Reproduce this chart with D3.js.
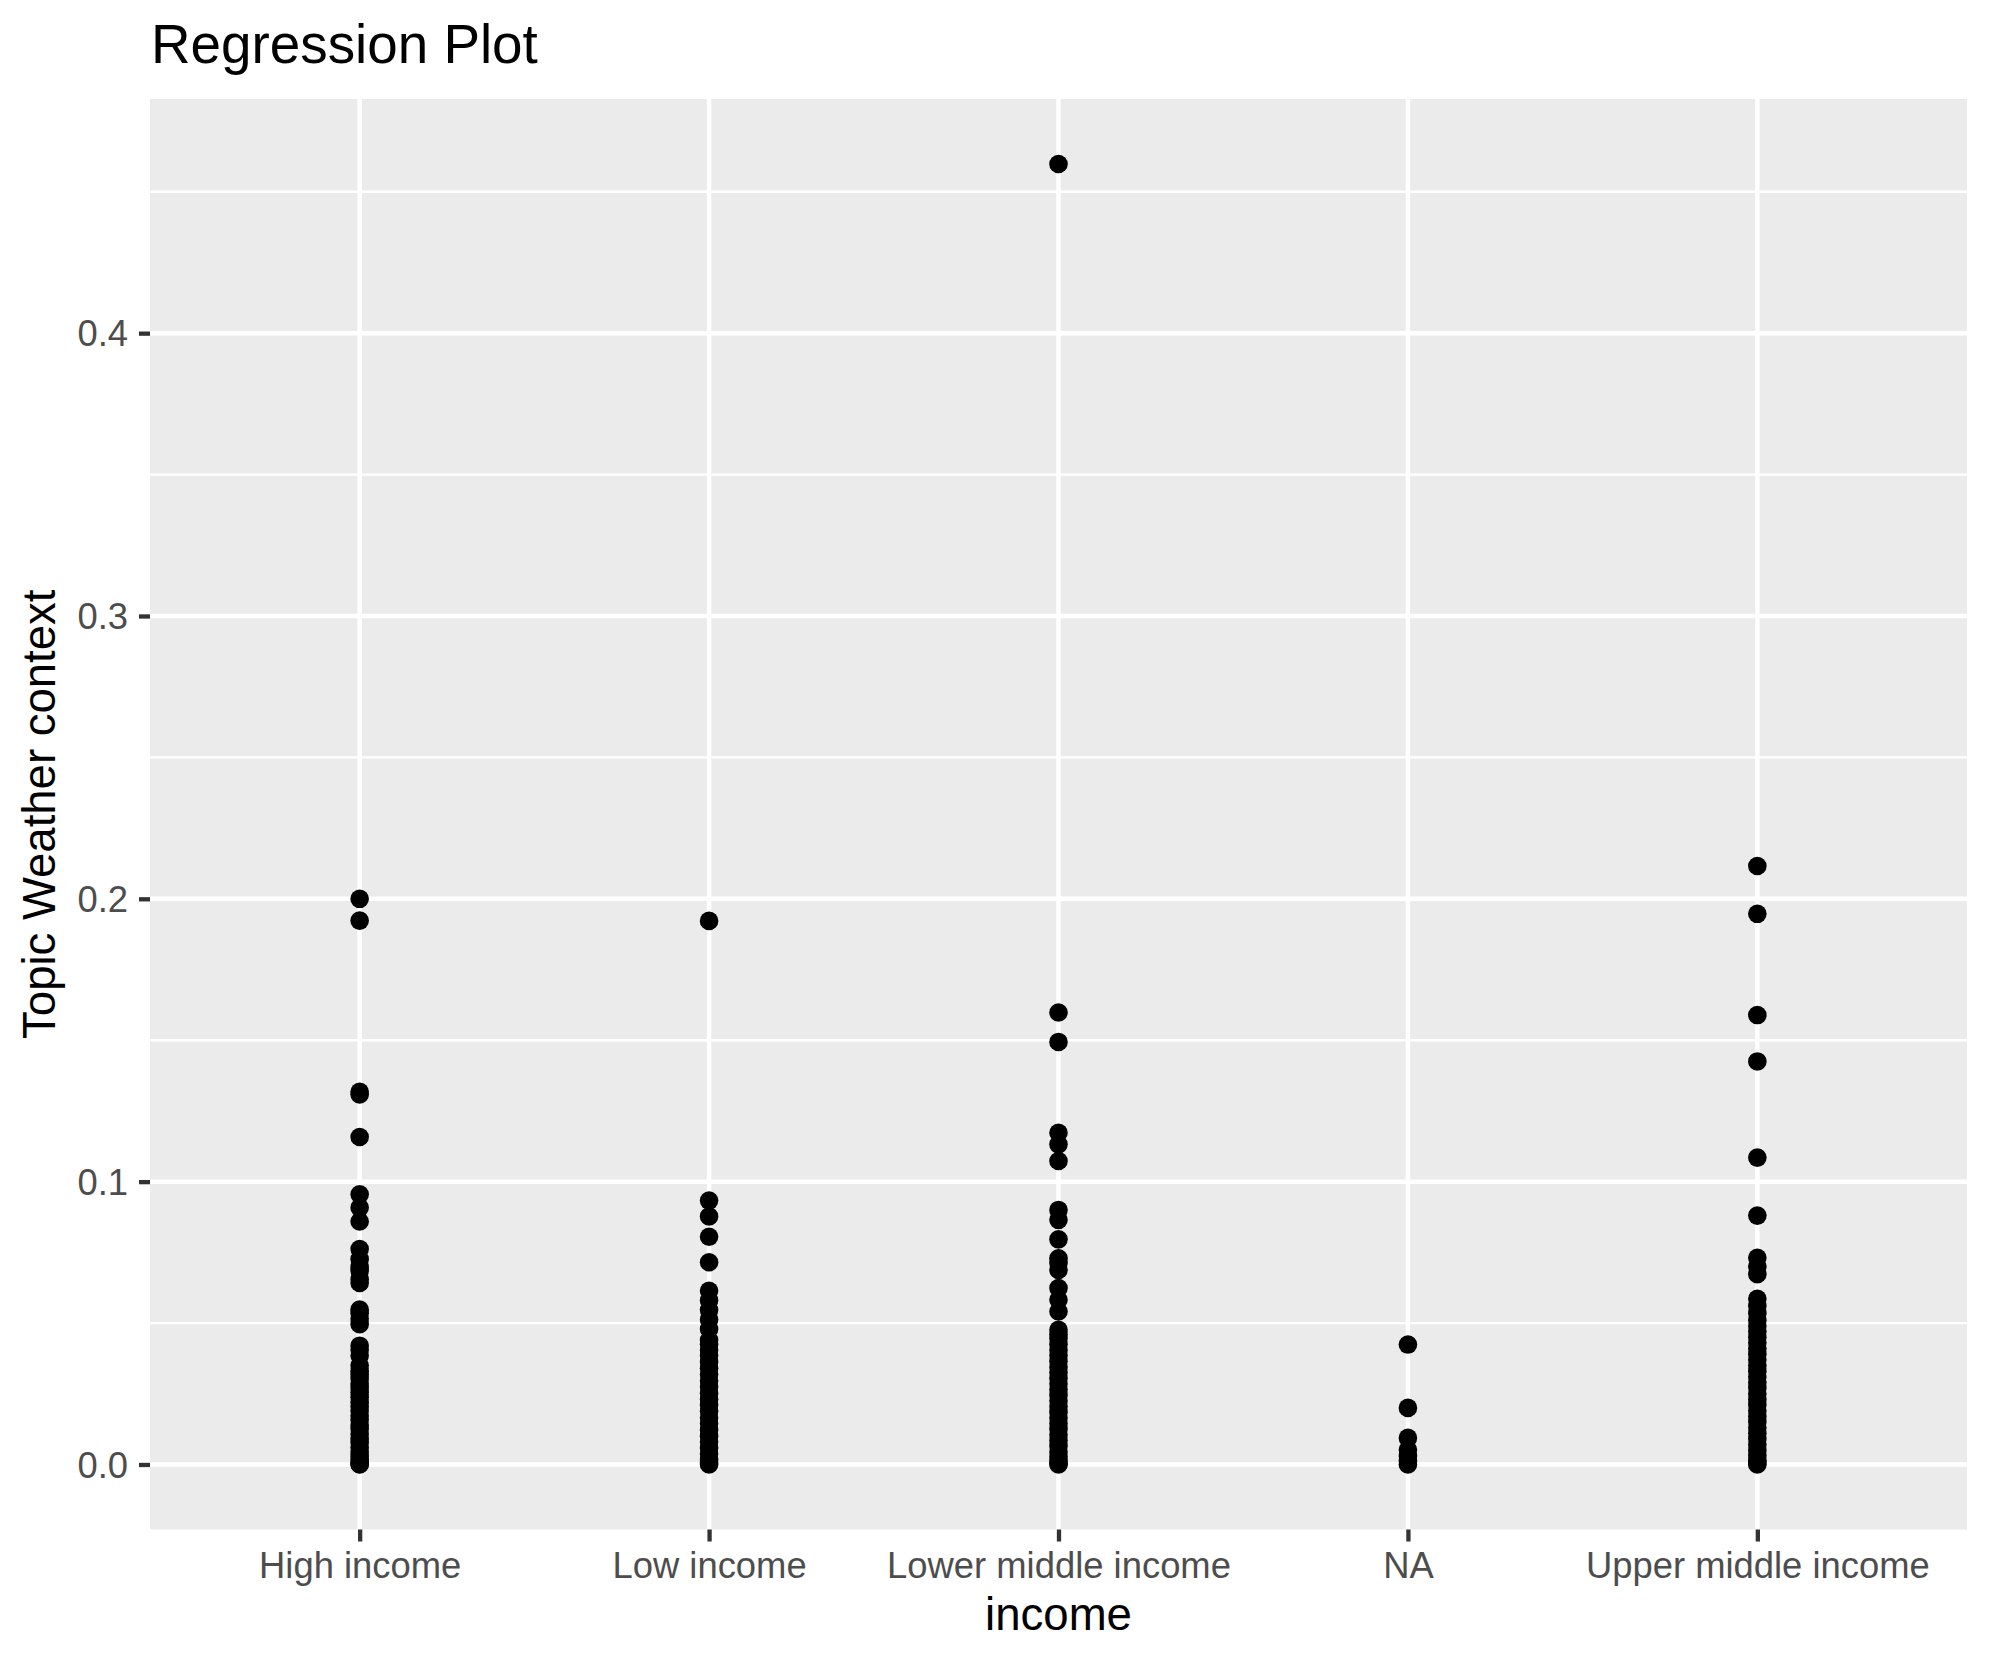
<!DOCTYPE html>
<html>
<head>
    <script src="https://d3js.org/d3.v7.min.js"></script>
    <style>
        body { margin: 0; background: #fff; }
        text { font-family: "Liberation Sans", Arial, sans-serif; }
    </style>
</head>
<body>
<div id="chart"></div>
<script>
// categories on the x axis
const categories = ["High income", "Low income", "Lower middle income", "NA", "Upper middle income"];

// Topic Weather context values per income group
const highIncome = [0.2000, 0.1923, 0.1318, 0.1308, 0.1158, 0.0955, 0.0908, 0.0859, 0.0762, 0.0726,
    0.0698, 0.0684, 0.0655, 0.0642, 0.0548, 0.0535, 0.0515, 0.0496, 0.0420, 0.0405, 0.0384, 0.0350,
    0.0330, 0.0318, 0.0302, 0.0285, 0.0270, 0.0255, 0.0238, 0.0220, 0.0205, 0.0190, 0.0172, 0.0158,
    0.0140, 0.0125, 0.0108, 0.0092, 0.0078, 0.0060, 0.0045, 0.0030, 0.0018, 0.0008, 0.0002, 0.0000];
const lowIncome = [0.1922, 0.0933, 0.0877, 0.0805, 0.0715, 0.0614, 0.0580, 0.0546, 0.0512, 0.0479,
    0.0440, 0.0425, 0.0405, 0.0385, 0.0362, 0.0340, 0.0318, 0.0296, 0.0275, 0.0252, 0.0230, 0.0210,
    0.0188, 0.0165, 0.0145, 0.0122, 0.0100, 0.0080, 0.0058, 0.0038, 0.0018, 0.0005, 0.0000];
const lowerMiddleIncome = [0.4598, 0.1598, 0.1494, 0.1173, 0.1132, 0.1073, 0.0900, 0.0865, 0.0796,
    0.0729, 0.0712, 0.0688, 0.0624, 0.0582, 0.0541, 0.0476, 0.0460, 0.0445, 0.0425, 0.0405, 0.0385,
    0.0365, 0.0345, 0.0325, 0.0305, 0.0285, 0.0265, 0.0245, 0.0225, 0.0205, 0.0185, 0.0165, 0.0145,
    0.0125, 0.0105, 0.0085, 0.0065, 0.0045, 0.0028, 0.0012, 0.0003, 0.0000];
const naIncome = [0.0424, 0.0200, 0.0094, 0.0052, 0.0030, 0.0012, 0.0000];
const upperMiddleIncome = [0.2116, 0.1947, 0.1589, 0.1425, 0.1085, 0.0880, 0.0731, 0.0700, 0.0673,
    0.0586, 0.0560, 0.0535, 0.0510, 0.0490, 0.0470, 0.0450, 0.0430, 0.0410, 0.0390, 0.0370, 0.0350,
    0.0330, 0.0310, 0.0290, 0.0270, 0.0250, 0.0230, 0.0210, 0.0190, 0.0170, 0.0150, 0.0130, 0.0110,
    0.0090, 0.0070, 0.0050, 0.0032, 0.0015, 0.0005, 0.0000];

const yTicks = [0, 0.1, 0.2, 0.3, 0.4];
const yMinorTicks = [0.05, 0.15, 0.25, 0.35, 0.45];

const groups = [highIncome, lowIncome, lowerMiddleIncome, naIncome, upperMiddleIncome];
const points = [];
groups.forEach((vals, i) => vals.forEach(v => points.push({cat: categories[i], value: v})));

// layout
const W = 1990, H = 1665;
const panel = {left: 150, right: 1967, top: 99, bottom: 1529.5};

const svg = d3.select("#chart").append("svg")
    .attr("width", W)
    .attr("height", H);

// scales (ggplot style expansion)
const xScale = d3.scalePoint()
    .domain(categories)
    .range([panel.left, panel.right])
    .padding(0.6);

const ext = d3.extent(points, d => d.value);
const pad = (ext[1] - ext[0]) * 0.05;
const yScale = d3.scaleLinear()
    .domain([ext[0] - pad, ext[1] + pad])
    .range([panel.bottom, panel.top]);

// panel background
svg.append("rect")
    .attr("x", panel.left).attr("y", panel.top)
    .attr("width", panel.right - panel.left)
    .attr("height", panel.bottom - panel.top)
    .attr("fill", "#EBEBEB");

// grid lines
svg.append("g").selectAll("line")
    .data(yMinorTicks.filter(t => yScale(t) > panel.top))
    .join("line")
    .attr("x1", panel.left).attr("x2", panel.right)
    .attr("y1", d => yScale(d)).attr("y2", d => yScale(d))
    .attr("stroke", "#fff").attr("stroke-width", 2.3);

svg.append("g").selectAll("line")
    .data(yTicks)
    .join("line")
    .attr("x1", panel.left).attr("x2", panel.right)
    .attr("y1", d => yScale(d)).attr("y2", d => yScale(d))
    .attr("stroke", "#fff").attr("stroke-width", 4.5);

svg.append("g").selectAll("line")
    .data(categories)
    .join("line")
    .attr("x1", d => xScale(d)).attr("x2", d => xScale(d))
    .attr("y1", panel.top).attr("y2", panel.bottom)
    .attr("stroke", "#fff").attr("stroke-width", 4.5);

// points
svg.append("g").selectAll("circle")
    .data(points)
    .join("circle")
    .attr("cx", d => xScale(d.cat))
    .attr("cy", d => yScale(d.value))
    .attr("r", 9.3)
    .attr("fill", "#000");

// axes
const yAxis = svg.append("g")
    .attr("transform", `translate(${panel.left},0)`)
    .call(d3.axisLeft(yScale).tickValues(yTicks).tickSize(11).tickPadding(11).tickFormat(d3.format(".1f")));

const xAxis = svg.append("g")
    .attr("transform", `translate(0,${panel.bottom})`)
    .call(d3.axisBottom(xScale).tickSize(12).tickPadding(12));

[yAxis, xAxis].forEach(ax => {
    ax.select(".domain").remove();
    ax.selectAll(".tick line").attr("stroke", "#333333").attr("stroke-width", 4.3);
    ax.selectAll(".tick text")
        .attr("fill", "#4D4D4D")
        .style("font-size", "36.4px")
        .style("font-family", "'Liberation Sans', Arial, sans-serif");
});
yAxis.selectAll(".tick text").attr("dy", "0.35em");
xAxis.selectAll(".tick text").attr("y", 48.5).attr("dy", 0);

// titles
svg.append("text")
    .attr("x", 151).attr("y", 63)
    .style("font-size", "54.8px")
    .attr("fill", "#000")
    .text("Regression Plot");

svg.append("text")
    .attr("x", (panel.left + panel.right) / 2).attr("y", 1630)
    .attr("text-anchor", "middle")
    .style("font-size", "45.6px")
    .attr("fill", "#000")
    .text("income");

svg.append("text")
    .attr("transform", `translate(55,${(panel.top + panel.bottom) / 2}) rotate(-90)`)
    .attr("text-anchor", "middle")
    .style("font-size", "45.5px")
    .attr("fill", "#000")
    .text("Topic Weather context");
</script>
</body>
</html>
